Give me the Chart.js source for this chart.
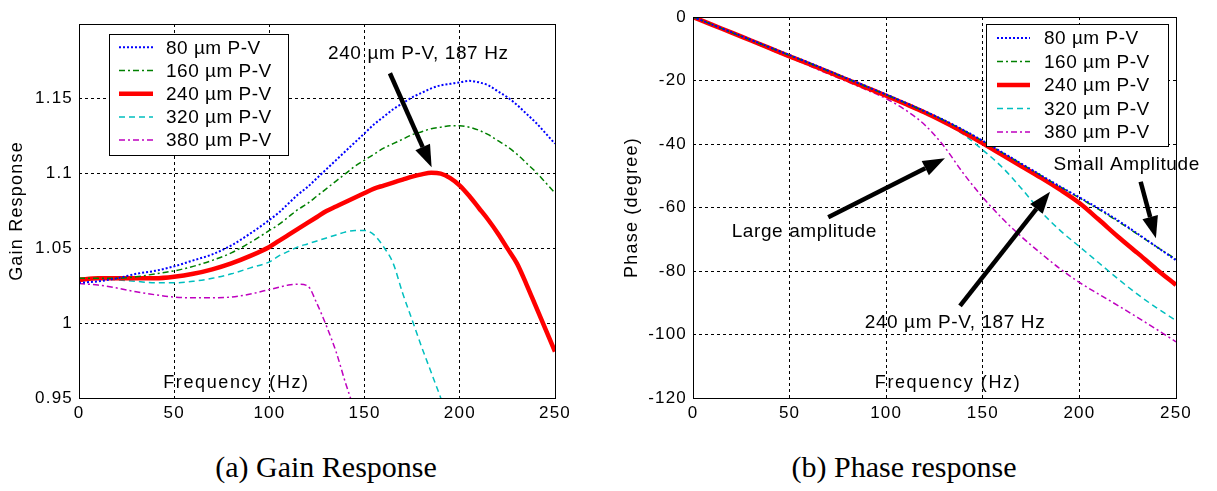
<!DOCTYPE html>
<html>
<head>
<meta charset="utf-8">
<script src="https://cdn.jsdelivr.net/npm/chart.js@4.4.0/dist/chart.umd.min.js"></script>
<style>
  body { margin: 0; background: #fff; width: 1217px; height: 491px; position: relative; overflow: hidden; }
  .pane { position: absolute; top: 0; }
  .caption { position: absolute; top: 452px; font: 30px "Liberation Serif", "Times New Roman", serif;
             line-height: 30px; white-space: nowrap; transform: translateX(-50%); color: #000; }
</style>
</head>
<body>
<canvas id="gainChart" class="pane" width="600" height="430" style="left:0"></canvas>
<canvas id="phaseChart" class="pane" width="607" height="430" style="left:610px"></canvas>
<div class="caption" style="left:326px">(a) Gain Response</div>
<div class="caption" style="left:904px">(b) Phase response</div>
<script>
// series
const seriesNames = ["80 µm P-V", "160 µm P-V", "240 µm P-V", "320 µm P-V", "380 µm P-V"];

// (a) gain response
const gainFreq = [0, 10, 20, 30, 40, 50, 60, 70, 80, 90, 100, 105, 110, 115, 120, 125, 130, 135, 140, 145,
                  150, 155, 160, 165, 170, 175, 180, 185, 190, 195, 200, 205, 210, 215, 220, 225, 230, 235, 240, 245, 250];
const gain80  = [1.027, 1.028, 1.030, 1.033, 1.035, 1.038, 1.042, 1.046, 1.052, 1.060, 1.069, 1.074, 1.080, 1.086, 1.091, 1.097, 1.103, 1.109, 1.115, 1.121,
                 1.127, 1.133, 1.138, 1.143, 1.147, 1.151, 1.154, 1.157, 1.159, 1.160, 1.161, 1.162, 1.161, 1.159, 1.155, 1.151, 1.146, 1.140, 1.134, 1.127, 1.120];
const gain160 = [1.030, 1.030, 1.030, 1.031, 1.033, 1.035, 1.038, 1.042, 1.047, 1.054, 1.062, 1.066, 1.071, 1.076, 1.080, 1.085, 1.090, 1.095, 1.100, 1.105,
                 1.109, 1.113, 1.117, 1.120, 1.123, 1.126, 1.128, 1.130, 1.131, 1.132, 1.132, 1.131, 1.129, 1.126, 1.122, 1.118, 1.113, 1.107, 1.101, 1.094, 1.087];
const gain240 = [1.029, 1.030, 1.030, 1.030, 1.030, 1.031, 1.033, 1.036, 1.040, 1.045, 1.051, 1.055, 1.059, 1.063, 1.067, 1.071, 1.075, 1.078, 1.081, 1.084,
                 1.087, 1.090, 1.092, 1.094, 1.096, 1.098, 1.0995, 1.1005, 1.100, 1.097, 1.092, 1.085, 1.077, 1.069, 1.060, 1.050, 1.040, 1.026, 1.011, 0.996, 0.981];
const gain320 = [1.030, 1.030, 1.029, 1.028, 1.027, 1.027, 1.028, 1.030, 1.033, 1.037, 1.041, 1.045, 1.048, 1.051, 1.053, 1.055, 1.057, 1.059, 1.061, 1.062,
                 1.062, 1.059, 1.051, 1.040, 1.020, 1.002, 0.984, 0.967, 0.950, 0.932, null, null, null, null, null, null, null, null, null, null, null];
const gain380 = [1.0265, 1.0255, 1.0235, 1.021, 1.019, 1.0175, 1.017, 1.017, 1.0175, 1.0195, 1.0225, 1.024, 1.0255, 1.026, 1.025, 1.013, 0.998, 0.981, 0.960, 0.941,
                 null, null, null, null, null, null, null, null, null, null, null, null, null, null, null, null, null, null, null, null, null];

// (b) phase response
const phaseFreq = [0, 10, 20, 30, 40, 50, 60, 70, 80, 90, 100, 110, 120, 130, 140, 150, 160, 170, 180, 190, 200, 210, 220, 230, 240, 250];
const phase80  = [0, -2.4, -4.8, -7.2, -9.6, -12.0, -14.4, -16.9, -19.4, -21.9, -24.4, -27.0, -29.7, -32.5, -35.6, -39.0, -42.6, -46.2, -49.8, -53.4, -56.8, -60.3, -64.1, -68.2, -72.4, -76.6];
const phase160 = [0, -2.4, -4.9, -7.3, -9.7, -12.1, -14.5, -17.0, -19.5, -22.0, -24.5, -27.1, -29.8, -32.6, -35.7, -39.1, -42.7, -46.3, -49.9, -53.5, -57.0, -60.6, -64.4, -68.4, -72.4, -76.3];
const phase240 = [0, -2.5, -4.9, -7.4, -9.9, -12.4, -14.8, -17.3, -19.8, -22.3, -24.8, -27.4, -30.1, -33.1, -36.3, -39.8, -43.4, -47.0, -50.6, -54.4, -58.6, -63.8, -69.2, -74.3, -79.5, -84.4];
const phase320 = [0, -2.5, -5.0, -7.5, -10.0, -12.5, -15.0, -17.5, -20.0, -22.5, -25.0, -27.7, -30.4, -33.4, -37.0, -41.9, -47.3, -54.0, -61.2, -67.2, -72.3, -77.4, -82.5, -87.3, -91.6, -95.6];
const phase380 = [0, -2.5, -5.1, -7.7, -10.3, -12.8, -15.3, -17.9, -20.4, -23.0, -25.7, -29.3, -34.0, -40.8, -49.3, -56.8, -63.4, -69.2, -74.4, -79.3, -83.6, -87.3, -90.9, -94.6, -98.4, -102.3];

// annotations in data units: [text, freq, value]
const gainNotes = [["240 µm P-V, 187 Hz", 178.2, 1.180]];
const gainArrows = [[163.3, 1.1671, 185.2, 1.1043]];
const phaseNotes = [["Large amplitude", 57.6, -67.8], ["240 µm P-V, 187 Hz", 135.6, -96.3], ["Small Amplitude", 224.5, -46.6]];
const phaseArrows = [[70, -63.1, 130.4, -44.5], [138.2, -91.0, 184.8, -55.0], [231.7, -51.9, 239.6, -69.7]];

const colors = ["#0000ff", "#008000", "#ff0000", "#00bfbf", "#bf00bf"];
const dashes = [[2, 2], [6, 3, 2, 3], [], [6, 4], [6, 3, 2, 3]];
const widths = [2, 1.5, 4.5, 1.5, 1.5];
const sans = '"Liberation Sans", Arial, sans-serif';

Chart.defaults.font.family = sans;
Chart.defaults.color = "#000";

function makeDatasets(freq, series) {
  return series.map((vals, i) => ({
    label: seriesNames[i],
    data: freq.map((f, j) => ({ x: f, y: vals[j] })),
    borderColor: colors[i],
    borderDash: dashes[i],
    borderWidth: widths[i],
    pointRadius: 0,
    cubicInterpolationMode: "monotone",
    fill: false,
    clip: 0
  }));
}

function drawArrow(ctx, x0, y0, x1, y1) {
  const ang = Math.atan2(y1 - y0, x1 - x0);
  const headLen = 22, half = 8;
  const bx = x1 - headLen * Math.cos(ang), by = y1 - headLen * Math.sin(ang);
  ctx.strokeStyle = "#000";
  ctx.lineWidth = 4.5;
  ctx.setLineDash([]);
  ctx.beginPath(); ctx.moveTo(x0, y0); ctx.lineTo(bx, by); ctx.stroke();
  ctx.fillStyle = "#000";
  ctx.beginPath();
  ctx.moveTo(x1, y1);
  ctx.lineTo(bx + half * Math.sin(ang), by - half * Math.cos(ang));
  ctx.lineTo(bx - half * Math.sin(ang), by + half * Math.cos(ang));
  ctx.closePath(); ctx.fill();
}

// frame, arrows, notes and the boxed legend inside the axes
const figureExtras = {
  id: "figureExtras",
  beforeDraw(chart) { chart.ctx.letterSpacing = "1.2px"; },
  afterDatasetsDraw(chart, args, opts) {
    const { ctx, chartArea: a, scales: { x, y } } = chart;
    ctx.save();
    ctx.setLineDash([]);
    ctx.strokeStyle = "#000";
    ctx.lineWidth = 1;
    ctx.strokeRect(Math.round(a.left) + 0.5, Math.round(a.top) + 0.5, Math.round(a.right - a.left), Math.round(a.bottom - a.top));

    opts.arrows.forEach(r => drawArrow(ctx, x.getPixelForValue(r[0]), y.getPixelForValue(r[1]),
                                            x.getPixelForValue(r[2]), y.getPixelForValue(r[3])));

    ctx.fillStyle = "#000";
    ctx.textAlign = "center";
    ctx.textBaseline = "middle";
    ctx.font = "19px " + sans;
    ctx.letterSpacing = "0.6px";
    opts.notes.forEach(n => ctx.fillText(n[0], x.getPixelForValue(n[1]), y.getPixelForValue(n[2])));

    // axis label sits inside the plot, above the bottom edge
    ctx.font = "18px " + sans;
    ctx.letterSpacing = "1.6px";
    ctx.fillText("Frequency (Hz)", x.getPixelForValue(opts.xLabel[0]), y.getPixelForValue(opts.xLabel[1]));

    const lg = opts.legend;
    const bx = Math.round(a.left + lg.x), by = Math.round(a.top + lg.y);
    ctx.fillStyle = "#fff";
    ctx.fillRect(bx, by, lg.w, lg.h);
    ctx.strokeStyle = "#000";
    ctx.lineWidth = 1;
    ctx.strokeRect(bx + 0.5, by + 0.5, lg.w, lg.h);
    ctx.font = "19px " + sans;
    ctx.letterSpacing = "0.5px";
    ctx.textAlign = "left";
    chart.data.datasets.forEach((ds, i) => {
      const ry = by + lg.first + i * lg.step;
      ctx.strokeStyle = ds.borderColor;
      ctx.lineWidth = ds.borderWidth;
      ctx.setLineDash(ds.borderDash);
      ctx.beginPath(); ctx.moveTo(bx + lg.line0, ry); ctx.lineTo(bx + lg.line1, ry); ctx.stroke();
      ctx.fillStyle = "#000";
      ctx.fillText(ds.label, bx + lg.textX, ry + 1);
    });
    ctx.restore();
  }
};

function scales(yMin, yMax, yStep, yTitle, axisW, titlePad, fmt) {
  return {
    x: {
      type: "linear", min: 0, max: 250,
      ticks: { stepSize: 50, font: { size: 17 }, padding: 5, maxRotation: 0 },
      grid: { color: "#000", lineWidth: 1, drawTicks: false },
      border: { display: false, dash: [3, 3] },
      afterFit(s) { s.height = 32; }
    },
    y: {
      min: yMin, max: yMax,
      ticks: { stepSize: yStep, font: { size: 17 }, padding: 6, callback: fmt },
      grid: { color: "#000", lineWidth: 1, drawTicks: false },
      border: { display: false, dash: [3, 3] },
      title: { display: true, text: yTitle, font: { size: 18 }, padding: { top: titlePad, bottom: 0 } },
      afterFit(s) { s.width = axisW; }
    }
  };
}

new Chart(document.getElementById("gainChart"), {
  type: "line",
  data: { datasets: makeDatasets(gainFreq, [gain80, gain160, gain240, gain320, gain380]) },
  options: {
    responsive: false, animation: false, devicePixelRatio: 1,
    layout: { padding: { top: 24, right: 45, left: 0, bottom: 0 } },
    scales: scales(0.95, 1.2, 0.05, "Gain Response", 79, 6.5,
                   v => (v > 1.19 ? "" : String(+v.toFixed(2)))),
    plugins: {
      legend: { display: false }, tooltip: { enabled: false },
      figureExtras: {
        arrows: gainArrows, notes: gainNotes, xLabel: [82.7, 0.960],
        legend: { x: 30, y: 10, w: 179, h: 121, first: 13.3, step: 23.2, line0: 10, line1: 44, textX: 57 }
      }
    }
  },
  plugins: [figureExtras]
});

new Chart(document.getElementById("phaseChart"), {
  type: "line",
  data: { datasets: makeDatasets(phaseFreq, [phase80, phase160, phase240, phase320, phase380]) },
  options: {
    responsive: false, animation: false, devicePixelRatio: 1,
    layout: { padding: { top: 17, right: 41, left: 0, bottom: 0 } },
    scales: scales(-120, 0, 20, "Phase (degree)", 83, 11.5, v => String(v)),
    plugins: {
      legend: { display: false }, tooltip: { enabled: false },
      figureExtras: {
        arrows: phaseArrows, notes: phaseNotes, xLabel: [132, -115.4],
        legend: { x: 293, y: 7, w: 182, h: 122, first: 14, step: 23.5, line0: 11, line1: 44, textX: 58 }
      }
    }
  },
  plugins: [figureExtras]
});
</script>
</body>
</html>
